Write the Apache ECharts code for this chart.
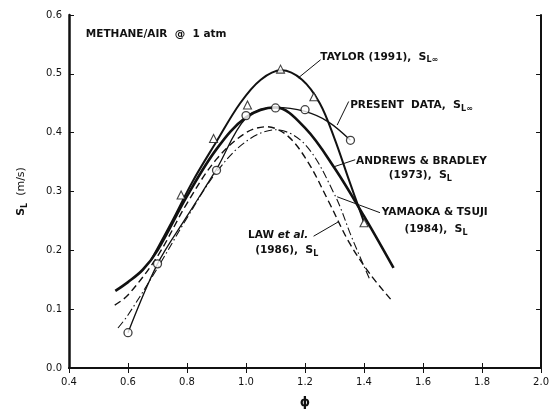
<!DOCTYPE html>
<html>
<head>
<meta charset="utf-8">
<script src="https://cdn.jsdelivr.net/npm/echarts@6/dist/echarts.min.js"></script>
<style>
html, body { margin: 0; background: #fff; }
#chart { width: 552px; height: 416px; }
</style>
</head>
<body>
<div id="chart"></div>
<script>
// [phi, S_L (m/s)]
let presentPoints = [[0.6, 0.06], [0.7, 0.177], [0.9, 0.336], [1.0, 0.429], [1.1, 0.442], [1.2, 0.439], [1.354, 0.387]]
let presentCurve = [[0.6, 0.06], [0.7, 0.177], [0.8, 0.258], [0.9, 0.338], [1.0, 0.425], [1.1, 0.443], [1.2, 0.436], [1.28, 0.418], [1.354, 0.387]]
let taylorPoints = [[0.78, 0.294], [0.89, 0.39], [1.005, 0.447], [1.117, 0.508], [1.23, 0.461], [1.4, 0.247]]
let taylorCurve = [[0.68, 0.185], [0.75, 0.25], [0.82, 0.318], [0.9, 0.385], [0.98, 0.45], [1.05, 0.49], [1.12, 0.506], [1.19, 0.49], [1.25, 0.45], [1.3, 0.39], [1.35, 0.318], [1.4, 0.248]]
let andrewsCurve = [[0.557, 0.131], [0.6, 0.146], [0.65, 0.167], [0.7, 0.2], [0.8, 0.292], [0.9, 0.372], [1.0, 0.426], [1.1, 0.443], [1.2, 0.408], [1.3, 0.34], [1.4, 0.258], [1.5, 0.17]]
let yamaokaCurve = [[0.566, 0.068], [0.6, 0.09], [0.7, 0.17], [0.8, 0.255], [0.9, 0.333], [1.0, 0.385], [1.1, 0.405], [1.2, 0.38], [1.3, 0.295], [1.36, 0.22], [1.42, 0.15]]
let lawCurve = [[0.555, 0.107], [0.6, 0.124], [0.7, 0.19], [0.8, 0.28], [0.9, 0.355], [1.0, 0.4], [1.07, 0.41], [1.14, 0.395], [1.21, 0.35], [1.28, 0.283], [1.35, 0.213], [1.42, 0.16], [1.49, 0.117]]
let xTicks = [0.4, 2.0, 0.2]
let yTicks = [0, 0.6, 0.1]

// annotation text anchors and leader lines, in data units
let notes = [
    { at: [0.457, 0.568], text: 'METHANE/AIR  @  1 atm' },
    { at: [1.252, 0.529], text: 'TAYLOR (1991),  {s|S}{sub|L∞}' },
    { at: [1.353, 0.446], text: 'PRESENT  DATA,  {s|S}{sub|L∞}' },
    { at: [1.373, 0.352], text: 'ANDREWS & BRADLEY' },
    { at: [1.484, 0.328], text: '(1973),  {s|S}{sub|L}' },
    { at: [1.46, 0.264], text: 'YAMAOKA & TSUJI' },
    { at: [1.537, 0.236], text: '(1984),  {s|S}{sub|L}' },
    { at: [1.007, 0.226], text: 'LAW {i|et al.}' },
    { at: [1.031, 0.2], text: '(1986),  {s|S}{sub|L}' }
]
let leaders = [
    [[1.253, 0.524], [1.177, 0.493]],
    [[1.348, 0.453], [1.309, 0.413]],
    [[1.37, 0.354], [1.298, 0.342]],
    [[1.454, 0.264], [1.309, 0.291]],
    [[1.229, 0.224], [1.315, 0.249]]
]

let ink = '#111'
let font = 'DejaVu Sans'
let richText = {
    s: { fontFamily: font, fontSize: 11, fontWeight: 'bold', fill: ink, color: ink },
    sub: { fontFamily: font, fontSize: 8, fill: ink, color: ink, padding: [7, 0, 0, 0], fontWeight: 'bold' },
    i: { fontFamily: font, fontSize: 10.5, fontStyle: 'italic', fontWeight: 'bold', fill: ink, color: ink }
}

let curve = (name, data, width, type) => ({
    name: name,
    type: 'line',
    data: data,
    smooth: 0.35,
    showSymbol: false,
    silent: true,
    lineStyle: { color: ink, width: width, type: type }
})

let axisCommon = {
    type: 'value',
    splitLine: { show: false },
    axisTick: { inside: true, length: 5, lineStyle: { color: ink, width: 1 } },
    axisLine: { lineStyle: { color: ink, width: 2 } }
}

let chart = echarts.init(document.getElementById('chart'))
let options = {
    animation: false,
    backgroundColor: '#fff',
    grid: { left: 69, right: 6, top: 15, bottom: 48 },
    xAxis: [
        Object.assign({}, axisCommon, {
            min: xTicks[0], max: xTicks[1], interval: xTicks[2],
            name: 'ϕ', nameLocation: 'middle', nameGap: 28,
            nameTextStyle: { fontFamily: font, fontSize: 13, fontWeight: 'bold', color: ink },
            axisLabel: { margin: 9, fontFamily: font, fontSize: 10, color: ink, formatter: v => v.toFixed(1) }
        }),
        Object.assign({}, axisCommon, {
            position: 'top', min: xTicks[0], max: xTicks[1], interval: xTicks[2],
            axisLabel: { show: false }
        })
    ],
    yAxis: [
        Object.assign({}, axisCommon, {
            min: yTicks[0], max: yTicks[1], interval: yTicks[2],
            name: '{s|S}{sub|L}  (m/s)', nameLocation: 'middle', nameGap: 40, nameRotate: 90,
            nameTextStyle: { fontFamily: font, fontSize: 11, color: ink, rich: richText },
            axisLine: { lineStyle: { color: ink, width: 2.5 } },
            axisLabel: { margin: 7, fontFamily: font, fontSize: 10, color: ink, formatter: v => v.toFixed(1) }
        }),
        Object.assign({}, axisCommon, {
            position: 'right', min: yTicks[0], max: yTicks[1], interval: yTicks[2],
            axisLabel: { show: false }
        })
    ],
    series: [
        curve('Taylor', taylorCurve, 2, 'solid'),
        curve('Andrews & Bradley', andrewsCurve, 2.6, 'solid'),
        curve('Present data', presentCurve, 1.3, 'solid'),
        curve('Yamaoka & Tsuji', yamaokaCurve, 1.1, [8, 3, 1.5, 3]),
        curve('Law', lawCurve, 1.4, [7, 4]),
        {
            name: 'Present data points',
            type: 'scatter',
            data: presentPoints,
            symbol: 'circle',
            symbolSize: 8,
            itemStyle: { color: '#fff', borderColor: ink, borderWidth: 1.3 },
            z: 5
        },
        {
            name: 'Taylor points',
            type: 'scatter',
            data: taylorPoints,
            symbol: 'triangle',
            symbolSize: 8,
            itemStyle: { color: '#fff', borderColor: ink, borderWidth: 1.1 },
            z: 5,
            markLine: {
                silent: true,
                symbol: 'none',
                label: { show: false },
                lineStyle: { color: ink, width: 1, type: 'solid' },
                data: leaders.map(l => [{ coord: l[0] }, { coord: l[1] }])
            }
        }
    ]
}
chart.setOption(options)

// place annotation text by converting data anchors to pixels
chart.setOption({
    graphic: notes.map(n => {
        let p = chart.convertToPixel({ gridIndex: 0 }, n.at)
        return {
            type: 'text',
            x: p[0],
            y: p[1],
            style: {
                text: n.text,
                fontFamily: font,
                fontSize: 10.5,
                fontWeight: 'bold',
                fill: ink,
                verticalAlign: 'middle',
                rich: richText
            }
        }
    })
})
</script>
</body>
</html>
